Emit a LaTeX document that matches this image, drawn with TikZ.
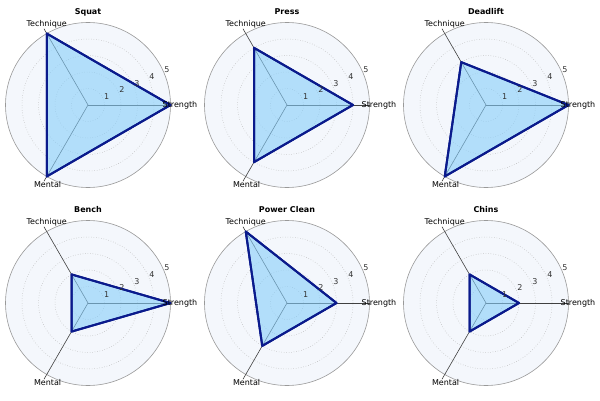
\documentclass[tikz,border=0pt]{standalone}
\usepackage{fontspec}
\setmainfont{DejaVu Sans}
\begin{document}
\definecolor{bgc}{HTML}{F4F7FC}
\definecolor{fillc}{HTML}{87CEFA}
\definecolor{navy}{HTML}{0A1A8C}
\tikzset{
 ring/.style={draw=gray!60,dotted,line width=0.5pt},
 outer/.style={draw=gray!80,line width=0.6pt,fill=bgc},
 axis/.style={draw=black!75,line width=0.6pt},
 poly/.style={draw=navy,line width=2pt,fill=fillc,fill opacity=0.6,line join=round},
 lab/.style={font=\fontsize{8}{9}\selectfont,inner sep=0pt},
 tick/.style={font=\fontsize{8}{9}\selectfont,inner sep=0pt,text=black!80},
 ttl/.style={font=\fontsize{8}{9}\selectfont\bfseries,inner sep=0pt}
}
\newcommand\radarchart[7]{%
 \begin{scope}[shift={(#1pt,{400pt-#2pt})}]
  \def\u{16.5}
  \path[outer] (0,0) circle (82.5pt);
  \foreach \k in {1,2,3,4} \draw[ring] (0,0) circle ({\k*\u pt});
  \coordinate (c#7) at (0,0);
  \coordinate (as#7) at (0:82.5pt);
  \coordinate (at#7) at (120:88pt);
  \coordinate (am#7) at (240:88pt);
  \draw[axis] (c#7) -- (as#7);
  \draw[axis] (c#7) -- (at#7);
  \draw[axis] (c#7) -- (am#7);
  \coordinate (vs#7) at (0:{#4*\u pt});
  \coordinate (vt#7) at (120:{#5*\u pt});
  \coordinate (vm#7) at (240:{#6*\u pt});
  \path[poly] (vs#7) -- (vt#7) -- (vm#7) -- cycle;
  \draw[navy,line width=2pt,line join=round] (vs#7) -- (vt#7) -- (vm#7) -- cycle;
  \foreach \k in {1,...,5} \node[tick] at (24:{\k*\u pt+4pt}) {\k};
  \node[lab] (ls#7) at (0:92pt) {Strength};
  \node[lab] (lt#7) at (117:91pt) {Technique};
  \node[lab] (lm#7) at (243:89pt) {Mental};
  \node[ttl] (ti#7) at (0,93pt) {#3};
 \end{scope}}
\begin{tikzpicture}
\useasboundingbox (0,0) rectangle (600pt,400pt);
\fill[white] (0,0) rectangle (600pt,400pt);
\radarchart{88}{105}{Squat}{5}{5}{5}{a}
\radarchart{287}{105}{Press}{4}{4}{4}{b}
\radarchart{486}{105}{Deadlift}{5}{3}{5}{c}
\radarchart{88}{303}{Bench}{5}{2}{2}{d}
\radarchart{287}{303}{Power Clean}{3}{5}{3}{e}
\radarchart{486}{303}{Chins}{2}{2}{2}{f}
\end{tikzpicture}
\end{document}
